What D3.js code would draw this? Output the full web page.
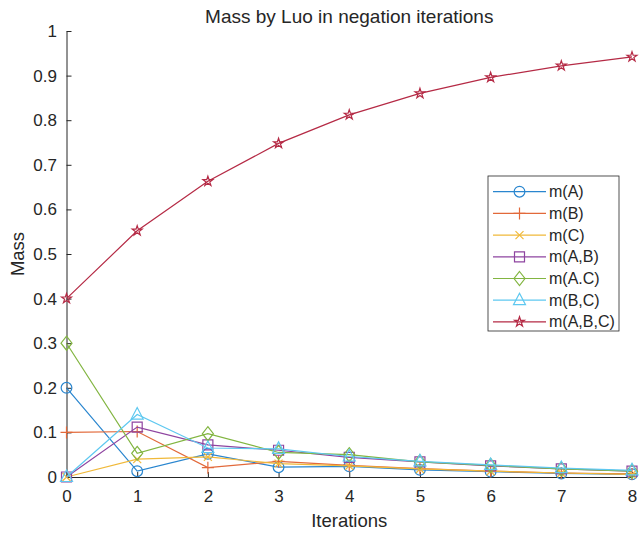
<!DOCTYPE html>
<html>
<head>
<meta charset="utf-8">
<script src="https://cdn.jsdelivr.net/npm/d3@7"></script>
<style>
  body { margin: 0; background: #fff; }
  text { font-family: "Liberation Sans", Arial, sans-serif; fill: #262626; }
</style>
</head>
<body>
<div id="chart"></div>
<script>
// Mass by Luo in negation iterations (D3 v7)

const width = 640;
const height = 533;
const margin = { top: 31, right: 8, bottom: 56, left: 66.5 };

const iterations = [0, 1, 2, 3, 4, 5, 6, 7, 8];
const seriesNames = ['m(A)', 'm(B)', 'm(C)', 'm(A,B)', 'm(A.C)', 'm(B,C)', 'm(A,B,C)'];
const mA   = [0.2, 0.013, 0.052, 0.022, 0.024, 0.016, 0.012, 0.008, 0.006];
const mB   = [0.1, 0.102, 0.021, 0.035, 0.026, 0.019, 0.013, 0.009, 0.007];
const mC   = [0, 0.04, 0.045, 0.03, 0.025, 0.018, 0.013, 0.009, 0.006];
const mAB  = [0, 0.112, 0.072, 0.06, 0.044, 0.034, 0.025, 0.018, 0.013];
const mAC  = [0.3, 0.053, 0.097, 0.055, 0.05, 0.034, 0.026, 0.018, 0.013];
const mBC  = [0, 0.14, 0.065, 0.063, 0.046, 0.035, 0.027, 0.02, 0.015];
const mABC = [0.4, 0.552, 0.663, 0.748, 0.812, 0.86, 0.896, 0.922, 0.942];
const yTicks = [0, 0.1, 0.2, 0.3, 0.4, 0.5, 0.6, 0.7, 0.8, 0.9, 1];

const colors = ['#2a86cf', '#e2693a', '#f0b93a', '#8e44a0', '#82b541', '#5ec8f0', '#b52a45'];
const markers = ['circle', 'plus', 'cross', 'square', 'diamond', 'triangle', 'star'];
const allSeries = [mA, mB, mC, mAB, mAC, mBC, mABC];

const svg = d3.select('#chart')
  .append('svg')
  .attr('width', width)
  .attr('height', height);

const x = d3.scaleLinear().domain([0, 8]).range([margin.left, width - margin.right]);
const y = d3.scaleLinear().domain([0, 1]).range([height - margin.bottom, margin.top]);

// axes (MATLAB style, ticks inward, box off)
const xAxis = svg.append('g')
  .attr('transform', `translate(0,${y(0)})`)
  .call(d3.axisBottom(x).tickValues(iterations).tickSizeInner(-5).tickSizeOuter(0).tickPadding(13));
const yAxis = svg.append('g')
  .attr('transform', `translate(${x(0)},0)`)
  .call(d3.axisLeft(y).tickValues(yTicks).tickFormat(d3.format('~g')).tickSizeInner(-5).tickSizeOuter(0).tickPadding(9.5));

[xAxis, yAxis].forEach(a => {
  a.select('.domain').attr('stroke', '#262626').attr('stroke-width', 1);
  a.selectAll('.tick line').attr('stroke', '#262626');
  a.selectAll('.tick text').style('font-size', '17px').attr('fill', '#262626');
});

// marker shapes
function markerPath(type) {
  switch (type) {
    case 'circle': return d3.symbol(d3.symbolCircle, 90)();
    case 'plus': return 'M-6,0H6M0,-6V6';
    case 'cross': return 'M-4,-4L4,4M-4,4L4,-4';
    case 'square': return 'M-5,-5H5V5H-5Z';
    case 'diamond': return 'M0,-7L5.5,0L0,7L-5.5,0Z';
    case 'triangle': return 'M0,-7L6,4.5H-6Z';
    case 'star': return d3.symbol(d3.symbolStar, 30)();
  }
}

const line = d3.line().x((d, i) => x(iterations[i])).y(d => y(d));

allSeries.forEach((vals, s) => {
  const g = svg.append('g');
  g.append('path')
    .attr('d', line(vals))
    .attr('fill', 'none')
    .attr('stroke', colors[s])
    .attr('stroke-width', 1.2);
  g.selectAll('path.mk')
    .data(vals)
    .enter()
    .append('path')
    .attr('class', 'mk')
    .attr('transform', (d, i) => `translate(${x(iterations[i])},${y(d)})`)
    .attr('d', markerPath(markers[s]))
    .attr('fill', 'none')
    .attr('stroke', colors[s])
    .attr('stroke-width', 1.2);
});

// title and labels
svg.append('text')
  .attr('x', (x(0) + x(8)) / 2)
  .attr('y', 23)
  .attr('text-anchor', 'middle')
  .style('font-size', '19px')
  .text('Mass by Luo in negation iterations');

svg.append('text')
  .attr('x', (x(0) + x(8)) / 2)
  .attr('y', 527)
  .attr('text-anchor', 'middle')
  .style('font-size', '18.5px')
  .text('Iterations');

svg.append('text')
  .attr('transform', `translate(24,${y(0.5)}) rotate(-90)`)
  .attr('text-anchor', 'middle')
  .style('font-size', '18.5px')
  .text('Mass');

// legend
const legend = svg.append('g').attr('transform', 'translate(488,176)');
legend.append('rect')
  .attr('width', 131)
  .attr('height', 155)
  .attr('fill', '#fff')
  .attr('stroke', '#262626')
  .attr('stroke-width', 0.8);

const item = legend.selectAll('.legendItem')
  .data(seriesNames)
  .enter()
  .append('g')
  .attr('class', 'legendItem')
  .attr('transform', (d, i) => `translate(0,${15.7 + i * 21.7})`);

item.append('line')
  .attr('x1', 5).attr('x2', 58)
  .attr('stroke', (d, i) => colors[i])
  .attr('stroke-width', 1.2);
item.append('path')
  .attr('transform', 'translate(31.5,0)')
  .attr('d', (d, i) => markerPath(markers[i]))
  .attr('fill', 'none')
  .attr('stroke', (d, i) => colors[i])
  .attr('stroke-width', 1.2);
item.append('text')
  .attr('x', 61)
  .attr('y', 5.5)
  .style('font-size', '16px')
  .text(d => d);
</script>
</body>
</html>
